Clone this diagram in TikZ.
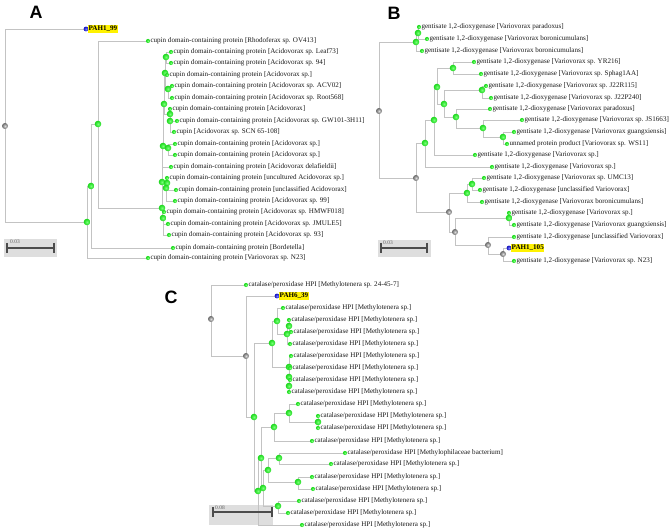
\documentclass[tikz,border=0pt]{standalone}
\usepackage{fontspec}
\setmainfont{Liberation Serif}
\newfontfamily\panelfont{Liberation Sans}
\usetikzlibrary{backgrounds}
\definecolor{ngreenin}{RGB}{120,255,120}
\definecolor{ngreenout}{RGB}{25,215,25}
\definecolor{ngrayin}{RGB}{220,220,220}
\definecolor{ngrayout}{RGB}{105,105,105}
\definecolor{nbluein}{RGB}{120,120,255}
\definecolor{nblueout}{RGB}{20,20,190}
\definecolor{edgegray}{RGB}{195,195,195}
\definecolor{boxgray}{RGB}{222,222,222}
\tikzset{
  x=1bp, y=-1bp,
  edge/.style={draw=edgegray, line width=0.8bp},
  inode/.style={circle, inner sep=0pt, minimum size=6.6bp, shading=radial, inner color=ngreenin, outer color=ngreenout},
  gnode/.style={circle, inner sep=0pt, minimum size=6bp, shading=radial, inner color=ngrayin, outer color=ngrayout},
  leafdot/.style={circle, inner sep=0pt, minimum size=4.2bp, shading=radial, inner color=ngreenin, outer color=ngreenout},
  pahdot/.style={circle, inner sep=0pt, minimum size=4.8bp, shading=radial, inner color=nbluein, outer color=nblueout},
  leaftext/.style={anchor=west, inner sep=0pt, text=black!90, font={\fontsize{7.1}{8}\selectfont}},
  pahtext/.style={anchor=west, inner xsep=0.7bp, inner ysep=1.6bp, fill=yellow, text=black, font={\fontsize{7.1}{8}\selectfont\bfseries}},
  panel/.style={inner sep=0pt, font={\panelfont\bfseries\fontsize{18}{18}\selectfont}},
  scalebox/.style={fill=boxgray, draw=none},
  scalebar/.style={draw=black!70, line width=1.1bp},
  scaletext/.style={anchor=west, inner sep=0pt, text=black!60, font={\fontsize{5.5}{6}\selectfont}}
}
\newcommand\treeI[3]{\node[inode] (#1) at (#2,#3) {};}
\newcommand\treeG[3]{\node[gnode] (#1) at (#2,#3) {};}
\newcommand\treeL[4]{\node[leafdot] (#1) at (#2,#3) {}; \node[leaftext] (#1t) at ([xshift=2.3bp]#1.center) {#4};}
\newcommand\treeP[4]{\node[pahdot] (#1) at (#2,#3) {}; \node[pahtext] (#1t) at ([xshift=1.8bp]#1.center) {#4};}
\newcommand\treeE[2]{\draw[edge] (#1.center) |- (#2.center);}
\newcommand\cupin{cupin domain-containing protein}
\newcommand\gent{gentisate 1,2-dioxygenase}
\newcommand\cat{catalase/peroxidase HPI}
\begin{document}
\begin{tikzpicture}
\path[use as bounding box] (0,0) rectangle (669,532);

% panel letters
\node[panel] (pA) at (36,12) {A};
\node[panel] (pB) at (394,13) {B};
\node[panel] (pC) at (171,297) {C};

% ================= Tree A =================
\treeG{aR}{5}{126}
\treeP{pah1}{86}{29}{PAH1\_99}
\treeI{a1}{87}{222}
\treeI{a2}{91}{186}
\treeI{a3}{98}{124}
\treeI{a4}{162}{208}
\treeI{a5}{163}{146}
\treeI{a6}{164}{104}
\treeI{a7}{165}{73}
\treeI{a7a}{166}{57}
\treeI{a7c}{168}{89}
\treeI{a8}{170}{114}
\treeI{a9}{170}{121}
\treeI{a10}{168}{148}
\treeI{a11}{162}{182}
\treeI{a13}{167}{183}
\treeI{a14}{166}{188}
\treeI{a12}{163}{218}
\treeL{la1}{148}{41}{\cupin{} [Rhodoferax sp. OV413]}
\treeL{la2}{171}{52}{\cupin{} [Acidovorax sp. Leaf73]}
\treeL{la3}{171}{63}{\cupin{} [Acidovorax sp. 94]}
\treeL{la4}{167}{75}{\cupin{} [Acidovorax sp.]}
\treeL{la5}{172}{86}{\cupin{} [Acidovorax sp. ACV02]}
\treeL{la6}{172}{98}{\cupin{} [Acidovorax sp. Root568]}
\treeL{la7}{170}{109}{\cupin{} [Acidovorax]}
\treeL{la8}{177}{121}{\cupin{} [Acidovorax sp. GW101-3H11]}
\treeL{la9}{174}{132}{cupin [Acidovorax sp. SCN 65-108]}
\treeL{la10}{175}{144}{\cupin{} [Acidovorax sp.]}
\treeL{la11}{175}{155}{\cupin{} [Acidovorax sp.]}
\treeL{la12}{171}{167}{\cupin{} [Acidovorax delafieldii]}
\treeL{la13}{167}{178}{\cupin{} [uncultured Acidovorax sp.]}
\treeL{la14}{176}{190}{\cupin{} [unclassified Acidovorax]}
\treeL{la15}{175}{201}{\cupin{} [Acidovorax sp. 99]}
\treeL{la16}{164}{212}{\cupin{} [Acidovorax sp. HMWF018]}
\treeL{la17}{168}{224}{\cupin{} [Acidovorax sp. JMULE5]}
\treeL{la18}{169}{235}{\cupin{} [Acidovorax sp. 93]}
\treeL{la19}{173}{248}{\cupin{} [Bordetella]}
\treeL{la20}{148}{258}{\cupin{} [Variovorax sp. N23]}
\coordinate (sAa) at (4,239); \coordinate (sAb) at (57,257);
\coordinate (sA1) at (7,248); \coordinate (sA2) at (54,248);
\node[scaletext] (sAt) at (10,242) {0.03};

% ================= Tree B =================
\treeG{bR}{379}{111}
\treeI{b1}{416}{42}
\treeI{b2}{418}{33}
\treeG{g1}{416}{178}
\treeI{b3}{425}{143}
\treeI{b4}{434}{120}
\treeI{b5}{437}{87}
\treeI{b6}{453}{68}
\treeI{b7}{444}{104}
\treeI{b8}{482}{90}
\treeI{b9}{456}{117}
\treeI{b10}{483}{128}
\treeI{b11}{503}{137}
\treeG{g2}{449}{212}
\treeI{b12}{467}{193}
\treeI{b13}{472}{184}
\treeG{g3}{455}{232}
\treeI{b14}{509}{218}
\treeG{g4}{488}{245}
\treeG{g5}{503}{254}
\treeL{lb1}{419}{27}{\gent{} [Variovorax paradoxus]}
\treeL{lb2}{427}{39}{\gent{} [Variovorax boronicumulans]}
\treeL{lb3}{422}{51}{\gent{} [Variovorax boronicumulans]}
\treeL{lb4}{474}{62}{\gent{} [Variovorax sp. YR216]}
\treeL{lb5}{481}{74}{\gent{} [Variovorax sp. Sphag1AA]}
\treeL{lb6}{486}{86}{\gent{} [Variovorax sp. J22R115]}
\treeL{lb7}{491}{98}{\gent{} [Variovorax sp. J22P240]}
\treeL{lb8}{490}{109}{\gent{} [Variovorax paradoxus]}
\treeL{lb9}{522}{120}{\gent{} [Variovorax sp. JS1663]}
\treeL{lb10}{514}{132}{\gent{} [Variovorax guangxiensis]}
\treeL{lb11}{507}{144}{unnamed protein product [Variovorax sp. WS11]}
\treeL{lb12}{475}{155}{\gent{} [Variovorax sp.]}
\treeL{lb13}{492}{167}{\gent{} [Variovorax sp.]}
\treeL{lb14}{484}{178}{\gent{} [Variovorax sp. UMC13]}
\treeL{lb15}{480}{190}{\gent{} [unclassified Variovorax]}
\treeL{lb16}{482}{202}{\gent{} [Variovorax boronicumulans]}
\treeL{lb17}{509}{213}{\gent{} [Variovorax sp.]}
\treeL{lb18}{514}{225}{\gent{} [Variovorax guangxiensis]}
\treeL{lb19}{514}{237}{\gent{} [unclassified Variovorax]}
\treeP{pah2}{509}{248}{PAH1\_105}
\treeL{lb20}{514}{261}{\gent{} [Variovorax sp. N23]}
\coordinate (sBa) at (378,240); \coordinate (sBb) at (431,257);
\coordinate (sB1) at (381,248); \coordinate (sB2) at (427,248);
\node[scaletext] (sBt) at (383,243) {0.03};

% ================= Tree C =================
\treeG{cR}{211}{319}
\treeG{cG}{246}{356}
\treeI{c1}{254}{417}
\treeI{c2}{272}{343}
\treeI{c15}{277}{321}
\treeI{c17}{287}{334}
\treeI{c18}{289}{326}
\treeI{c16}{289}{367}
\treeI{c19}{289}{377}
\treeI{c20}{289}{386}
\treeI{c4}{258}{491}
\treeI{c6}{261}{458}
\treeI{c7}{274}{427}
\treeI{c9}{289}{413}
\treeI{c10}{318}{422}
\treeI{c8}{263}{488}
\treeI{c11}{268}{470}
\treeI{c13}{279}{458}
\treeI{c14}{298}{482}
\treeI{c12}{278}{506}
\treeL{lc1}{246}{285}{\cat{} [Methylotenera sp. 24-45-7]}
\treeP{pah3}{277}{296}{PAH6\_39}
\treeL{lc3}{283}{308}{\cat{} [Methylotenera sp.]}
\treeL{lc4}{289}{320}{\cat{} [Methylotenera sp.]}
\treeL{lc5}{291}{332}{\cat{} [Methylotenera sp.]}
\treeL{lc6}{290}{344}{\cat{} [Methylotenera sp.]}
\treeL{lc7}{291}{356}{\cat{} [Methylotenera sp.]}
\treeL{lc8}{290}{368}{\cat{} [Methylotenera sp.]}
\treeL{lc9}{290}{380}{\cat{} [Methylotenera sp.]}
\treeL{lc10}{289}{392}{\cat{} [Methylotenera sp.]}
\treeL{lc11}{298}{404}{\cat{} [Methylotenera sp.]}
\treeL{lc12}{318}{416}{\cat{} [Methylotenera sp.]}
\treeL{lc13}{318}{428}{\cat{} [Methylotenera sp.]}
\treeL{lc14}{312}{441}{\cat{} [Methylotenera sp.]}
\treeL{lc15}{345}{453}{\cat{} [Methylophilaceae bacterium]}
\treeL{lc16}{331}{464}{\cat{} [Methylotenera sp.]}
\treeL{lc17}{312}{477}{\cat{} [Methylotenera sp.]}
\treeL{lc18}{313}{489}{\cat{} [Methylotenera sp.]}
\treeL{lc19}{299}{501}{\cat{} [Methylotenera sp.]}
\treeL{lc20}{288}{513}{\cat{} [Methylotenera sp.]}
\treeL{lc21}{302}{525}{\cat{} [Methylotenera sp.]}
\coordinate (sCa) at (209,505); \coordinate (sCb) at (273,525);
\coordinate (sC1) at (213,512); \coordinate (sC2) at (272,512);
\node[scaletext] (sCt) at (215,508) {0.08};

\begin{pgfonlayer}{background}
% scale boxes
\foreach \s in {A,B,C}{
  \path[scalebox] (s\s a) rectangle (s\s b);
}
% edges A
\treeE{aR}{pah1} \treeE{aR}{a1}
\treeE{a1}{a2} \treeE{a1}{la20}
\treeE{a2}{a3} \treeE{a2}{la19}
\treeE{a3}{la1} \treeE{a3}{a4}
\treeE{a4}{a5} \treeE{a4}{a11} \treeE{a4}{la16} \treeE{a4}{a12}
\treeE{a12}{la17} \treeE{a12}{la18}
\treeE{a5}{a6} \treeE{a5}{a10}
\treeE{a6}{a7} \treeE{a6}{a8}
\treeE{a7}{a7a} \treeE{a7}{la4} \treeE{a7}{a7c}
\treeE{a7a}{la2} \treeE{a7a}{la3}
\treeE{a7c}{la5} \treeE{a7c}{la6}
\treeE{a8}{la7} \treeE{a8}{a9}
\treeE{a9}{la8} \treeE{a9}{la9}
\treeE{a10}{la10} \treeE{a10}{la11}
\treeE{a11}{la12} \treeE{a11}{a13}
\treeE{a13}{la13} \treeE{a13}{a14}
\treeE{a14}{la14} \treeE{a14}{la15}
% edges B
\treeE{bR}{b1} \treeE{bR}{g1}
\treeE{b1}{b2} \treeE{b1}{lb3}
\treeE{b2}{lb1} \treeE{b2}{lb2}
\treeE{g1}{b3} \treeE{g1}{g2}
\treeE{b3}{b4} \treeE{b3}{lb13}
\treeE{b4}{b5} \treeE{b4}{lb12}
\treeE{b5}{b6} \treeE{b5}{b7}
\treeE{b6}{lb4} \treeE{b6}{lb5}
\treeE{b7}{b8} \treeE{b7}{b9}
\treeE{b8}{lb6} \treeE{b8}{lb7}
\treeE{b9}{lb8} \treeE{b9}{b10}
\treeE{b10}{lb9} \treeE{b10}{b11}
\treeE{b11}{lb10} \treeE{b11}{lb11}
\treeE{g2}{b12} \treeE{g2}{g3}
\treeE{b12}{b13} \treeE{b12}{lb16}
\treeE{b13}{lb14} \treeE{b13}{lb15}
\treeE{g3}{b14} \treeE{g3}{g4}
\treeE{b14}{lb17} \treeE{b14}{lb18}
\treeE{g4}{lb19} \treeE{g4}{g5}
\treeE{g5}{pah2} \treeE{g5}{lb20}
% edges C
\treeE{cR}{lc1} \treeE{cR}{cG}
\treeE{cG}{pah3} \treeE{cG}{c1}
\treeE{c1}{c2} \treeE{c1}{c4}
\treeE{c2}{c15} \treeE{c2}{c16}
\treeE{c15}{lc3} \treeE{c15}{c17}
\treeE{c17}{c18} \treeE{c17}{lc6}
\treeE{c18}{lc4} \treeE{c18}{lc5}
\treeE{c16}{lc7} \treeE{c16}{c19}
\treeE{c19}{lc8} \treeE{c19}{c20}
\treeE{c20}{lc9} \treeE{c20}{lc10}
\treeE{c4}{c6} \treeE{c4}{lc21}
\treeE{c6}{c7} \treeE{c6}{c8}
\treeE{c7}{c9} \treeE{c7}{lc14}
\treeE{c9}{lc11} \treeE{c9}{c10}
\treeE{c10}{lc12} \treeE{c10}{lc13}
\treeE{c8}{c11} \treeE{c8}{c12}
\treeE{c11}{c13} \treeE{c11}{c14}
\treeE{c13}{lc15} \treeE{c13}{lc16}
\treeE{c14}{lc17} \treeE{c14}{lc18}
\treeE{c12}{lc19} \treeE{c12}{lc20}
\end{pgfonlayer}

% scale bars
\foreach \s in {A,B,C}{
  \draw[scalebar] (s\s 1) -- (s\s 2);
  \draw[scalebar] ([yshift=5bp]s\s 1) -- ([yshift=-5bp]s\s 1);
  \draw[scalebar] ([yshift=5bp]s\s 2) -- ([yshift=-5bp]s\s 2);
}
\end{tikzpicture}
\end{document}
